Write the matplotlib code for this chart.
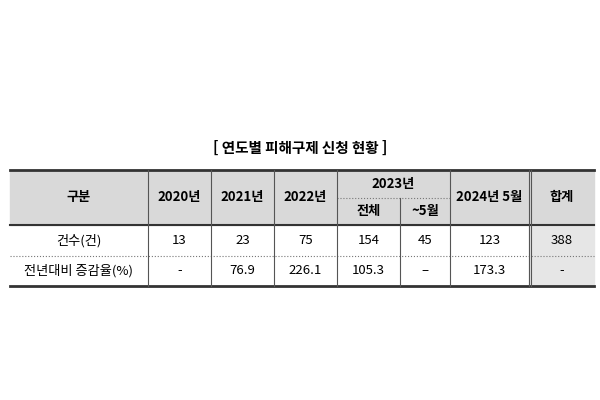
import matplotlib.pyplot as plt
from matplotlib.patches import Rectangle

plt.rcParams['font.family'] = ['Noto Sans CJK KR', 'DejaVu Sans']

title = "[ 연도별 피해구제 신청 현황 ]"
years = ["2020년", "2021년", "2022년"]
sub_2023 = ["전체", "~5월"]
row_labels = ["건수(건)", "전년대비 증감율(%)"]
counts = ["13", "23", "75", "154", "45", "123", "388"]
rates = ["-", "76.9", "226.1", "105.3", "–", "173.3", "-"]

fig = plt.figure(figsize=(6, 4), dpi=100)
ax = fig.add_axes([0, 0, 1, 1])
ax.set_xlim(0, 600)
ax.set_ylim(400, 0)
ax.axis('off')

xs = [10, 148, 211, 274, 337, 400, 450, 529, 594]
top, mid, hb, r1, bot = 170, 198, 225, 256, 286
gray = '#d9d9d9'

ax.add_patch(Rectangle((xs[0], top), xs[-1] - xs[0], hb - top, color=gray, zorder=0))
ax.add_patch(Rectangle((xs[7], hb), xs[-1] - xs[7], bot - hb, color='#e6e6e6', zorder=0))

ax.text(300, 148, title, ha='center', va='center', fontsize=10.5, fontweight='bold')

# lines
ax.plot([xs[0], xs[-1]], [top, top], color='#333', lw=2)
ax.plot([xs[0], xs[-1]], [hb, hb], color='#333', lw=1.5)
ax.plot([xs[0], xs[-1]], [bot, bot], color='#333', lw=2)
ax.plot([xs[0], xs[-1]], [r1, r1], color='#777', lw=0.8, ls=':')
ax.plot([xs[4], xs[6]], [mid, mid], color='#777', lw=0.8, ls=':')
for i, x in enumerate(xs[1:-1], start=1):
    y0 = mid if i == 5 else top
    ax.plot([x, x], [y0, bot], color='#555', lw=0.8)
ax.plot([xs[7] + 2, xs[7] + 2], [top, bot], color='#555', lw=0.8)

def cx(i, j):
    return (xs[i] + xs[j]) / 2

hy = (top + hb) / 2
fs = 9.5
ax.text(cx(0, 1), hy, "구분", ha='center', va='center', fontsize=fs, fontweight='bold')
for k, y in enumerate(years):
    ax.text(cx(k + 1, k + 2), hy, y, ha='center', va='center', fontsize=fs, fontweight='bold')
ax.text(cx(4, 6), (top + mid) / 2, "2023년", ha='center', va='center', fontsize=fs, fontweight='bold')
ax.text(cx(4, 5), (mid + hb) / 2, sub_2023[0], ha='center', va='center', fontsize=fs, fontweight='bold')
ax.text(cx(5, 6), (mid + hb) / 2, sub_2023[1], ha='center', va='center', fontsize=fs, fontweight='bold')
ax.text(cx(6, 7), hy, "2024년 5월", ha='center', va='center', fontsize=fs, fontweight='bold')
ax.text(cx(7, 8), hy, "합계", ha='center', va='center', fontsize=fs, fontweight='bold')

for (y0, y1), label, vals in [((hb, r1), row_labels[0], counts), ((r1, bot), row_labels[1], rates)]:
    yc = (y0 + y1) / 2
    ax.text(cx(0, 1), yc, label, ha='center', va='center', fontsize=fs)
    for k, v in enumerate(vals):
        ax.text(cx(k + 1, k + 2), yc, v, ha='center', va='center', fontsize=fs)

fig.savefig('out.png')
